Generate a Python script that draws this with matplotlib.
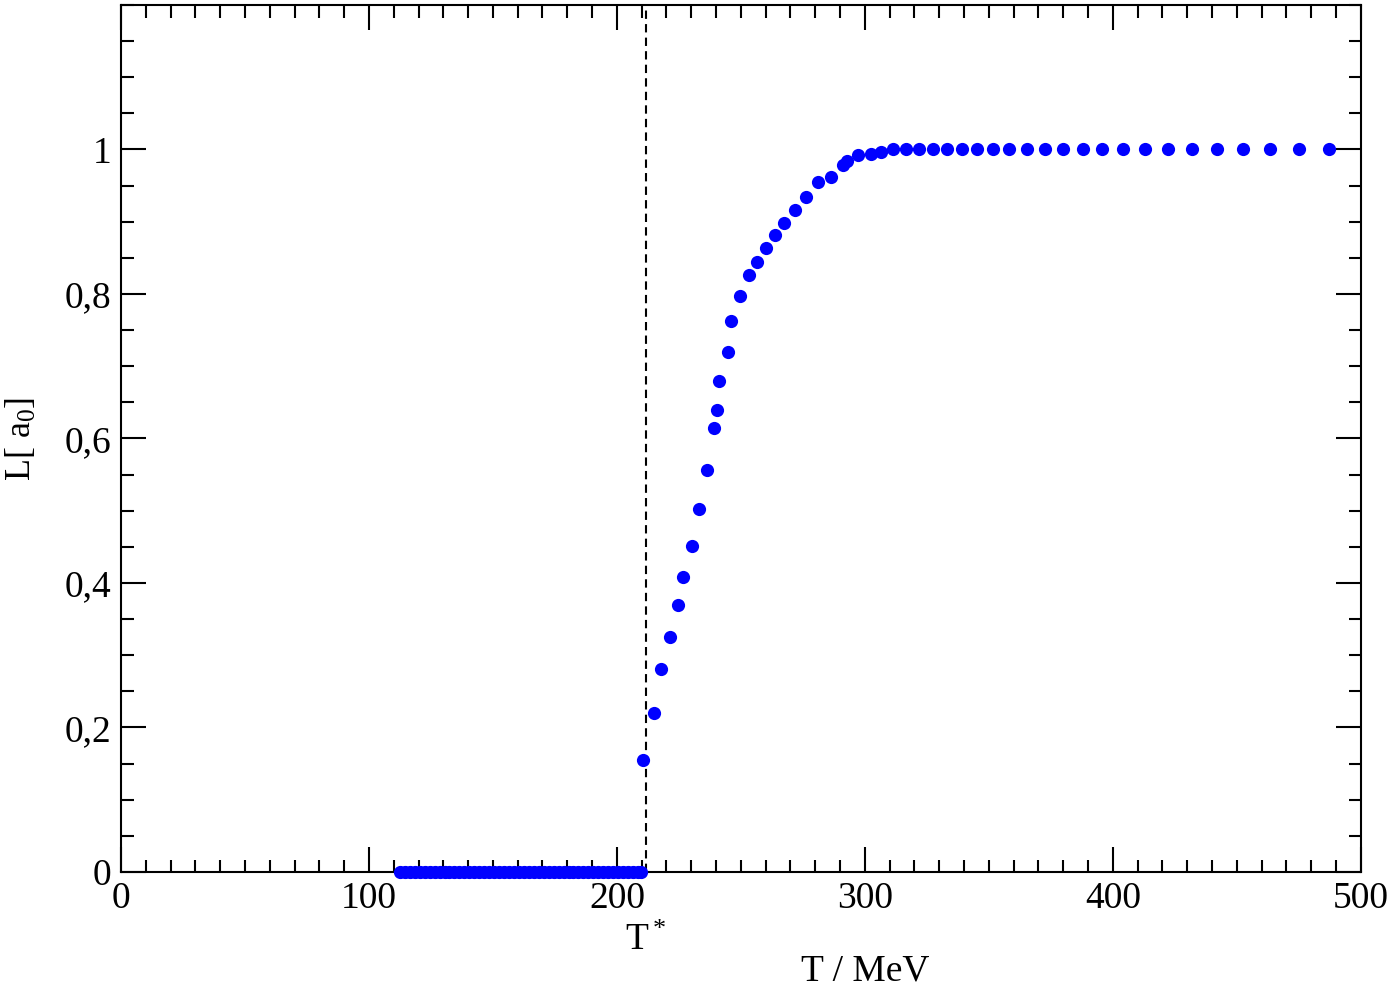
import numpy as np
import matplotlib.pyplot as plt
from matplotlib.ticker import MultipleLocator, FixedLocator

plt.rcParams['font.family'] = ['Liberation Serif', 'DejaVu Serif']
plt.rcParams['mathtext.fontset'] = 'custom'
plt.rcParams['mathtext.rm'] = 'Liberation Serif'
plt.rcParams['mathtext.it'] = 'Liberation Serif'

# confined phase: L = 0 (dense band of points)
T_zero = [112.5, 114.5, 116.5, 118.5, 120.5, 122.5, 124.5, 126.5, 128.5, 130.5,
          132.5, 134.5, 136.5, 138.5, 140.5, 142.5, 144.5, 146.5, 148.5, 150.5,
          152.5, 154.5, 156.5, 158.5, 160.5, 162.5, 164.5, 166.5, 168.5, 170.5,
          172.5, 174.5, 176.5, 178.5, 180.5, 182.5, 184.5, 186.5, 188.5, 190.5,
          192.5, 194.5, 196.5, 198.5, 200.5, 202.5, 204.5, 206.5, 208.5, 209.9]
L_zero = [0.0] * len(T_zero)

# deconfined phase
T_dec = [210.5, 214.9, 217.6, 221.4, 224.5, 226.5, 230.2, 233.3, 236.3, 239.0,
         240.3, 241.0, 244.8, 246.0, 249.7, 253.1, 256.5, 260.1, 263.7, 267.4,
         271.9, 276.3, 281.3, 286.3, 291.1, 292.7, 297.3, 302.5, 306.5, 311.2,
         316.4, 321.7, 327.3, 333.1, 339.1, 345.2, 351.6, 358.1, 365.3, 372.6,
         379.8, 387.9, 395.6, 404.0, 412.9, 422.2, 431.9, 441.9, 452.4, 463.3,
         475.0, 487.1]
L_dec = [0.155, 0.220, 0.281, 0.325, 0.369, 0.408, 0.451, 0.503, 0.557, 0.614,
         0.640, 0.679, 0.719, 0.762, 0.797, 0.826, 0.844, 0.863, 0.882, 0.898,
         0.916, 0.934, 0.955, 0.962, 0.979, 0.984, 0.992, 0.994, 0.997, 1.0,
         1.0, 1.0, 1.0, 1.0, 1.0, 1.0, 1.0, 1.0, 1.0, 1.0,
         1.0, 1.0, 1.0, 1.0, 1.0, 1.0, 1.0, 1.0, 1.0, 1.0,
         1.0, 1.0]

T_star = 211.6

fig = plt.figure(figsize=(13.9, 9.88), dpi=100)
ax = fig.add_axes([0.087, 0.1174, 0.892, 0.8776])

ax.plot(T_zero, L_zero, 'o', color='#0000ff', markersize=9.5, markeredgewidth=0,
        clip_on=False, zorder=3)
ax.plot(T_dec, L_dec, 'o', color='#0000ff', markersize=9.5, markeredgewidth=0,
        zorder=3)
ax.axvline(T_star, color='black', linestyle=(0, (4, 2.5)), linewidth=1.5)

ax.set_xlim(0, 500)
ax.set_ylim(0, 1.2)
ax.xaxis.set_major_locator(MultipleLocator(100))
ax.xaxis.set_minor_locator(MultipleLocator(10))
yt = [0, 0.2, 0.4, 0.6, 0.8, 1.0]
ax.yaxis.set_major_locator(FixedLocator(yt))
ax.set_yticklabels(['0', '0,2', '0,4', '0,6', '0,8', '1'])
ax.yaxis.set_minor_locator(MultipleLocator(0.05))

ax.tick_params(which='both', direction='in', top=True, right=True, width=1.5,
               labelsize=27)
ax.tick_params(which='major', length=18, pad=7)
ax.tick_params(which='minor', length=9)
for s in ax.spines.values():
    s.set_linewidth(1.5)

ax.set_ylabel(r'L[ a$_0$]', fontsize=26)
ax.yaxis.set_label_coords(-0.066, 0.5)
ax.set_xlabel('T / MeV', fontsize=27)
ax.xaxis.set_label_coords(0.6, -0.094)
ax.text(T_star, -0.095, r'T$^*$', fontsize=27, ha='center', va='center')

fig.savefig('out.png', dpi=100)
